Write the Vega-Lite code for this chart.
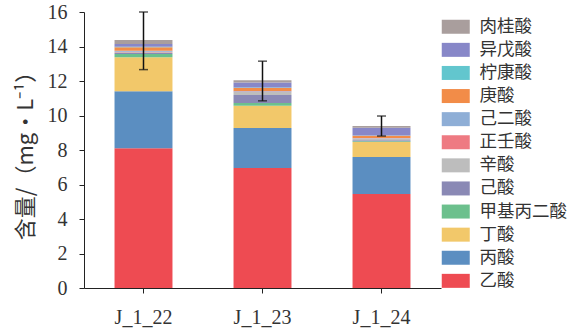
{
  "$schema": "https://vega.github.io/schema/vega-lite/v6.json",
  "width": 357,
  "height": 276,
  "autosize": "none",
  "padding": {"left": 84, "top": 12, "right": 144, "bottom": 43},
  "background": "white",
  "config": {
    "view": {"stroke": null},
    "axis": {"grid": false, "domainColor": "#222", "tickColor": "#222", "labelColor": "#333", "labelFont": "Liberation Serif", "labelFontSize": 20, "titleColor": "#333"}
  },
  "datasets": {
    "acids": [
      {"s": "J_1_22", "a": "乙酸", "r": 1, "v": 8.1},
      {"s": "J_1_22", "a": "丙酸", "r": 2, "v": 3.3},
      {"s": "J_1_22", "a": "丁酸", "r": 3, "v": 1.97},
      {"s": "J_1_22", "a": "甲基丙二酸", "r": 4, "v": 0.2},
      {"s": "J_1_22", "a": "己酸", "r": 5, "v": 0.05},
      {"s": "J_1_22", "a": "辛酸", "r": 6, "v": 0.05},
      {"s": "J_1_22", "a": "正壬酸", "r": 7, "v": 0.03},
      {"s": "J_1_22", "a": "己二酸", "r": 8, "v": 0.05},
      {"s": "J_1_22", "a": "庚酸", "r": 9, "v": 0.2},
      {"s": "J_1_22", "a": "柠康酸", "r": 10, "v": 0.03},
      {"s": "J_1_22", "a": "异戊酸", "r": 11, "v": 0.17},
      {"s": "J_1_22", "a": "肉桂酸", "r": 12, "v": 0.23},
      {"s": "J_1_23", "a": "乙酸", "r": 1, "v": 6.96},
      {"s": "J_1_23", "a": "丙酸", "r": 2, "v": 2.32},
      {"s": "J_1_23", "a": "丁酸", "r": 3, "v": 1.28},
      {"s": "J_1_23", "a": "甲基丙二酸", "r": 4, "v": 0.17},
      {"s": "J_1_23", "a": "己酸", "r": 5, "v": 0.46},
      {"s": "J_1_23", "a": "辛酸", "r": 6, "v": 0.17},
      {"s": "J_1_23", "a": "正壬酸", "r": 7, "v": 0.03},
      {"s": "J_1_23", "a": "己二酸", "r": 8, "v": 0.03},
      {"s": "J_1_23", "a": "庚酸", "r": 9, "v": 0.17},
      {"s": "J_1_23", "a": "柠康酸", "r": 10, "v": 0.03},
      {"s": "J_1_23", "a": "异戊酸", "r": 11, "v": 0.3},
      {"s": "J_1_23", "a": "肉桂酸", "r": 12, "v": 0.12},
      {"s": "J_1_24", "a": "乙酸", "r": 1, "v": 5.45},
      {"s": "J_1_24", "a": "丙酸", "r": 2, "v": 2.15},
      {"s": "J_1_24", "a": "丁酸", "r": 3, "v": 0.86},
      {"s": "J_1_24", "a": "甲基丙二酸", "r": 4, "v": 0.05},
      {"s": "J_1_24", "a": "己酸", "r": 5, "v": 0.05},
      {"s": "J_1_24", "a": "辛酸", "r": 6, "v": 0.1},
      {"s": "J_1_24", "a": "正壬酸", "r": 7, "v": 0.02},
      {"s": "J_1_24", "a": "己二酸", "r": 8, "v": 0.02},
      {"s": "J_1_24", "a": "庚酸", "r": 9, "v": 0.12},
      {"s": "J_1_24", "a": "柠康酸", "r": 10, "v": 0.02},
      {"s": "J_1_24", "a": "异戊酸", "r": 11, "v": 0.45},
      {"s": "J_1_24", "a": "肉桂酸", "r": 12, "v": 0.1}
    ],
    "err": [
      {"s": "J_1_22", "lo": 12.66, "hi": 16.0},
      {"s": "J_1_23", "lo": 10.85, "hi": 13.15},
      {"s": "J_1_24", "lo": 8.81, "hi": 9.97}
    ]
  },
  "layer": [
    {
      "data": {"name": "acids"},
      "mark": {"type": "bar"},
      "encoding": {
        "x": {"field": "s", "type": "nominal", "scale": {"paddingInner": 0.513, "paddingOuter": 0.2565},
          "axis": {"title": null, "labelAngle": 0, "tickSize": 5, "labelPadding": 14}},
        "y": {"field": "v", "type": "quantitative", "aggregate": "sum", "stack": "zero",
          "scale": {"domain": [0, 16], "nice": false},
          "axis": {"title": "含量/（mg•L⁻¹）", "titleFont": "Noto Sans CJK SC", "titleFontSize": 22, "titleFontWeight": "normal", "titlePadding": 10,
            "values": [0, 2, 4, 6, 8, 10, 12, 14, 16], "labelOverlap": false, "tickSize": 5, "labelPadding": 12}},
        "order": {"field": "r", "type": "quantitative", "sort": "ascending"},
        "color": {"field": "a", "type": "nominal",
          "scale": {
            "domain": ["肉桂酸", "异戊酸", "柠康酸", "庚酸", "己二酸", "正壬酸", "辛酸", "己酸", "甲基丙二酸", "丁酸", "丙酸", "乙酸"],
            "range": ["#A99E9D", "#8787C8", "#62C6CE", "#F28C48", "#8EAED6", "#EE7A82", "#BDBDBD", "#8A89B5", "#6CC08D", "#F2C86A", "#5B8EC1", "#EE4B52"]
          },
          "legend": {"title": null, "orient": "none", "legendX": 363, "legendY": 6,
            "symbolType": "M-2,-1H2V1H-2Z", "symbolSize": 196, "symbolStrokeWidth": 0,
            "labelFont": "Noto Sans CJK SC", "labelFontSize": 17.5, "labelColor": "#333", "labelOffset": 15, "rowPadding": 4.1}
        }
      }
    },
    {
      "data": {"name": "err"},
      "mark": {"type": "rule", "color": "#111", "strokeWidth": 1.5},
      "encoding": {
        "x": {"field": "s", "type": "nominal",
          "axis": {"title": null, "labelAngle": 0, "tickSize": 5, "labelPadding": 14}},
        "y": {"field": "lo", "type": "quantitative",
          "axis": {"title": "含量/（mg•L⁻¹）", "titleFont": "Noto Sans CJK SC", "titleFontSize": 22, "titleFontWeight": "normal", "titlePadding": 10,
            "values": [0, 2, 4, 6, 8, 10, 12, 14, 16], "labelOverlap": false, "tickSize": 5, "labelPadding": 12}},
        "y2": {"field": "hi"}
      }
    },
    {
      "data": {"name": "err"},
      "mark": {"type": "tick", "color": "#111", "size": 9, "thickness": 1.5},
      "encoding": {
        "x": {"field": "s", "type": "nominal",
          "axis": {"title": null, "labelAngle": 0, "tickSize": 5, "labelPadding": 14}},
        "y": {"field": "lo", "type": "quantitative",
          "axis": {"title": "含量/（mg•L⁻¹）", "titleFont": "Noto Sans CJK SC", "titleFontSize": 22, "titleFontWeight": "normal", "titlePadding": 10,
            "values": [0, 2, 4, 6, 8, 10, 12, 14, 16], "labelOverlap": false, "tickSize": 5, "labelPadding": 12}}
      }
    },
    {
      "data": {"name": "err"},
      "mark": {"type": "tick", "color": "#111", "size": 9, "thickness": 1.5},
      "encoding": {
        "x": {"field": "s", "type": "nominal",
          "axis": {"title": null, "labelAngle": 0, "tickSize": 5, "labelPadding": 14}},
        "y": {"field": "hi", "type": "quantitative",
          "axis": {"title": "含量/（mg•L⁻¹）", "titleFont": "Noto Sans CJK SC", "titleFontSize": 22, "titleFontWeight": "normal", "titlePadding": 10,
            "values": [0, 2, 4, 6, 8, 10, 12, 14, 16], "labelOverlap": false, "tickSize": 5, "labelPadding": 12}}
      }
    }
  ]
}
